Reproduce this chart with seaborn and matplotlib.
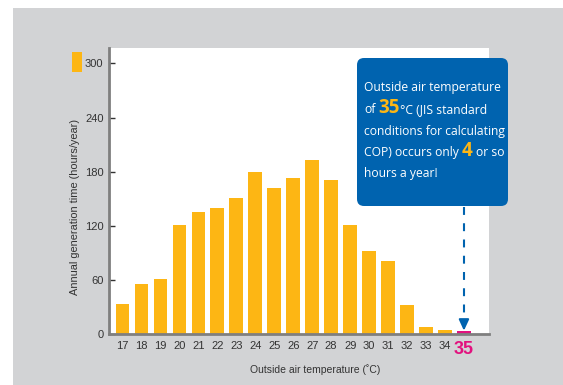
import matplotlib
matplotlib.use("Agg")
import matplotlib.pyplot as plt
import numpy as np
import pandas as pd
import seaborn as sns
from matplotlib.patches import Rectangle, FancyBboxPatch
from matplotlib.transforms import IdentityTransform

# Annual generation time by outside air temperature
temps = [17, 18, 19, 20, 21, 22, 23, 24, 25, 26, 27, 28, 29, 30, 31, 32, 33, 34, 35]
hours = [33, 55.5, 61.5, 121, 135.5, 140, 150.5, 180, 162, 173, 193, 171, 121, 92, 81.5, 32, 8.5, 5, 4]
y_ticks = [0, 60, 120, 180, 240, 300]
highlight_temp = 35

ORANGE = "#FDB614"
PINK = "#E2117E"
BLUE = "#0063AF"
GRAY = "#D2D3D5"
AXIS = "#7F7F7F"
TEXT = "#333333"

W, H = 563, 385
sns.set_theme(style="white")
plt.rcParams["font.family"] = ["Liberation Sans", "DejaVu Sans"]

fig = plt.figure(figsize=(W / 100, H / 100), dpi=100)
fig.patch.set_facecolor("white")
fig.add_artist(Rectangle((13 / W, 0), 1 - 13 / W, 1 - 8 / H, transform=fig.transFigure,
                         fc=GRAY, ec="none", zorder=0))
fig.add_artist(Rectangle((72 / W, 1 - 72 / H), 10 / W, 20 / H, transform=fig.transFigure,
                         fc=ORANGE, ec="none", zorder=1))

ax = fig.add_axes([109 / W, 1 - 334.3 / H, (489 - 109) / W, (334.3 - 48) / H])
ax.set_facecolor("white")

labels = [str(t) for t in temps]
df = pd.DataFrame({"temp": labels, "hours": hours})
colors = [PINK if t == highlight_temp else ORANGE for t in temps]
sns.barplot(data=df, x="temp", y="hours", hue="temp", order=labels, hue_order=labels,
            palette=colors, legend=False, width=0.72, saturation=1, linewidth=0, ax=ax)

ax.set_xlim(-0.71, 19.32)
ax.set_ylim(0, 317)
ax.set_yticks(y_ticks)
ax.set_xlabel("")
ax.set_ylabel("")
for side in ("top", "right"):
    ax.spines[side].set_visible(False)
for side in ("left", "bottom"):
    ax.spines[side].set_color(AXIS)
    ax.spines[side].set_linewidth(2)
ax.tick_params(axis="y", direction="in", length=4, width=1, color=TEXT,
               labelsize=8, labelcolor=TEXT, pad=4, left=True)
ax.tick_params(axis="x", length=0, labelsize=8, labelcolor=TEXT, pad=5)
last = ax.get_xticklabels()[-1]
last.set_color(PINK)
last.set_fontsize(13)
last.set_fontweight("bold")

fig.text(315 / W, 1 - 370 / H, "Outside air temperature (˚C)", ha="center", va="center",
         fontsize=7.5, color=TEXT)
fig.text(75 / W, 1 - 207 / H, "Annual generation time (hours/year)", ha="center", va="center",
         rotation=90, fontsize=7.9, color=TEXT)

# Pointer from the callout down to the highlighted bar
xi = temps.index(highlight_temp)
tip = hours[xi]
ax.plot([xi, xi], [141, tip + 11], color=BLUE, lw=1.5, ls=(0, (3.8, 4.0)),
        solid_capstyle="butt", dash_capstyle="butt", zorder=4)
ax.annotate("", xy=(xi, tip), xytext=(xi, tip + 11),
            arrowprops=dict(arrowstyle="-|>,head_length=0.65,head_width=0.3", color=BLUE,
                            lw=1.5, shrinkA=0, shrinkB=0, mutation_scale=10), zorder=5)

# Callout box
ident = IdentityTransform()
fig.add_artist(FancyBboxPatch((357, H - 206), 151, 148,
                              boxstyle="round,pad=0,rounding_size=7",
                              transform=ident, fc=BLUE, ec="none", zorder=6))

renderer = fig.canvas.get_renderer()
base = dict(family=["Open Sans", "DejaVu Sans"], fontsize=8.7, color="white")
big = dict(family=["Open Sans", "DejaVu Sans"], fontsize=13.5, color=ORANGE, fontweight="bold")
probe = fig.text(0, 0, "a a", transform=ident, **base)
probe2 = fig.text(0, 0, "aa", transform=ident, **base)
space = probe.get_window_extent(renderer).width - probe2.get_window_extent(renderer).width
probe.remove()
probe2.remove()

lines = [
    (91, [("Outside air temperature", base)]),
    (113, [("of", base), (" ", None), ("35", big), ("°C (JIS standard", base)]),
    (134.5, [("conditions for calculating", base)]),
    (156, [("COP) occurs only", base), (" ", None), ("4", big), (" ", None), ("or so", base)]),
    (177.5, [("hours a year!", base)]),
]
for yb, pieces in lines:
    x = 364
    for s, style in pieces:
        if style is None:
            x += space
            continue
        t = fig.text(x, H - yb, s, transform=ident, ha="left", va="baseline", zorder=7, **style)
        x += t.get_window_extent(renderer).width

fig.savefig("out.png", dpi=100)
